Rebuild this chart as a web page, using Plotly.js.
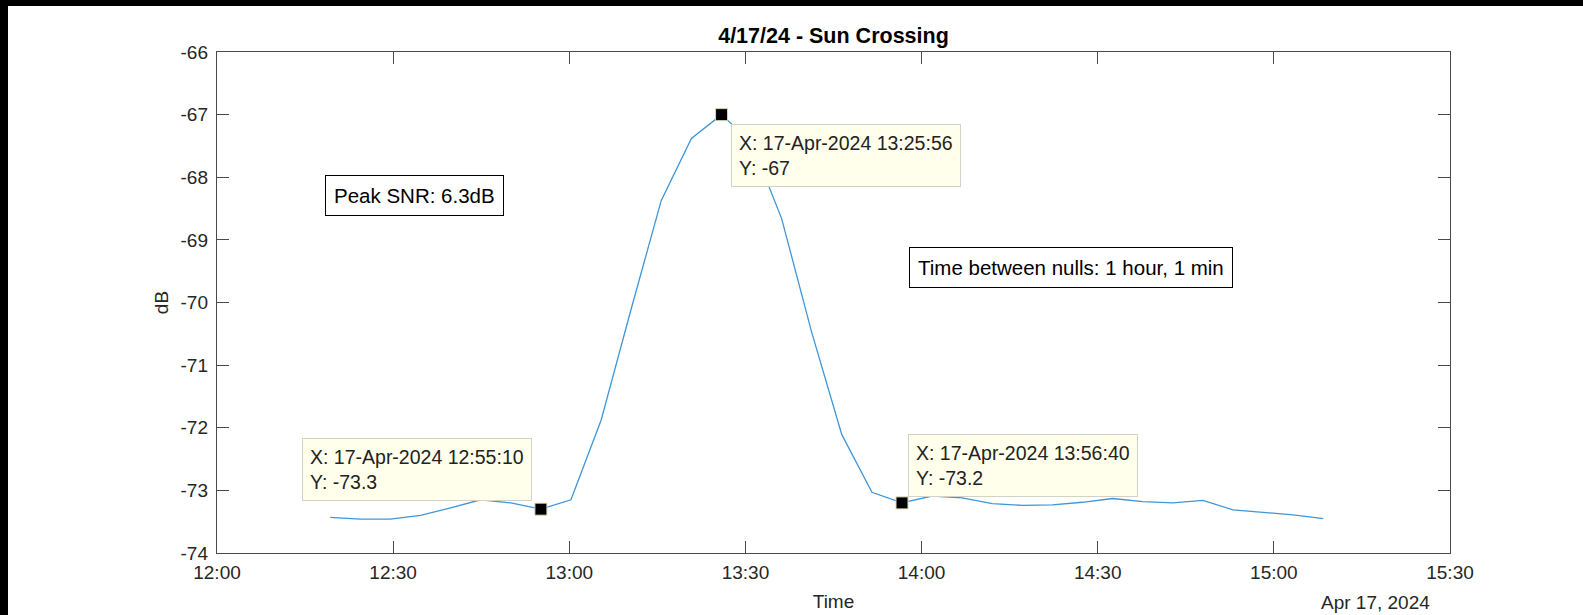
<!DOCTYPE html>
<html>
<head>
<meta charset="utf-8">
<script src="https://cdn.plot.ly/plotly-3.0.1.min.js"></script>
<style>
  html, body { margin: 0; padding: 0; background: #000; overflow: hidden; }
  #chart { position: absolute; left: 8px; top: 6px; width: 1575px; height: 609px; background: #fff; }
</style>
</head>
<body>
<div id="chart"></div>
<script>
// ---- data ----
const times = [
  "2024-04-17 12:19:17", "2024-04-17 12:24:25", "2024-04-17 12:29:32", "2024-04-17 12:34:40",
  "2024-04-17 12:39:47", "2024-04-17 12:44:55", "2024-04-17 12:50:02", "2024-04-17 12:55:10",
  "2024-04-17 13:00:17", "2024-04-17 13:05:25", "2024-04-17 13:10:33", "2024-04-17 13:15:40",
  "2024-04-17 13:20:48", "2024-04-17 13:25:56", "2024-04-17 13:31:03", "2024-04-17 13:36:10",
  "2024-04-17 13:41:18", "2024-04-17 13:46:25", "2024-04-17 13:51:33", "2024-04-17 13:56:40",
  "2024-04-17 14:01:47", "2024-04-17 14:06:55", "2024-04-17 14:12:02", "2024-04-17 14:17:10",
  "2024-04-17 14:22:17", "2024-04-17 14:27:25", "2024-04-17 14:32:32", "2024-04-17 14:37:40",
  "2024-04-17 14:42:47", "2024-04-17 14:47:55", "2024-04-17 14:53:02", "2024-04-17 14:58:10",
  "2024-04-17 15:03:17", "2024-04-17 15:08:25"
];
const dBvals = [
  -73.43, -73.46, -73.46, -73.40,
  -73.28, -73.15, -73.20, -73.30,
  -73.15, -71.88, -70.10, -68.37,
  -67.38, -67.00, -67.45, -68.66,
  -70.48, -72.11, -73.03, -73.20,
  -73.09, -73.12, -73.21, -73.24,
  -73.23, -73.19, -73.13, -73.18,
  -73.20, -73.16, -73.31, -73.35,
  -73.39, -73.45
];
const tipIndex = [7, 13, 19];

const xTickVals = ["2024-04-17 12:00", "2024-04-17 12:30", "2024-04-17 13:00", "2024-04-17 13:30",
                   "2024-04-17 14:00", "2024-04-17 14:30", "2024-04-17 15:00", "2024-04-17 15:30"];
const xTickText = ["12:00", "12:30", "13:00", "13:30", "14:00", "14:30", "15:00", "15:30"];
const yTickVals = [-74, -73, -72, -71, -70, -69, -68, -67, -66];
const yTickText = ["-74", "-73", "-72", "-71", "-70", "-69", "-68", "-67", "-66"];

const titleText = "4/17/24 - Sun Crossing";
const peakText = "Peak SNR: 6.3dB";
const nullText = "Time between nulls: 1 hour, 1 min";
const dateLabel = "Apr 17, 2024";

// ---- helpers ----
const MONTHS = ["Jan","Feb","Mar","Apr","May","Jun","Jul","Aug","Sep","Oct","Nov","Dec"];
function fmtTime(s) {
  const [d, t] = s.split(" ");
  const [y, m, day] = d.split("-");
  return day + "-" + MONTHS[parseInt(m, 10) - 1] + "-" + y + " " + t;
}
function fmtVal(v) { return String(Number(v.toPrecision(4))); }

const FONT = "Liberation Sans, Arial, Helvetica, sans-serif";
const TXT = "#262626";

const tipX = tipIndex.map(i => times[i]);
const tipY = tipIndex.map(i => dBvals[i]);

const traces = [
  {
    x: times, y: dBvals, type: "scatter", mode: "lines",
    line: { color: "rgb(62,150,216)", width: 1.3 },
    hoverinfo: "skip", showlegend: false
  },
  {
    x: tipX, y: tipY, type: "scatter", mode: "markers",
    marker: { symbol: "square", size: 12, color: "#000", line: { color: "#d8d8b4", width: 1 } },
    hoverinfo: "skip", showlegend: false
  }
];

const tipPlacement = [
  { xanchor: "right", yanchor: "bottom", xshift: -9, yshift: 8 },
  { xanchor: "left",  yanchor: "top",    xshift: 9,  yshift: -9 },
  { xanchor: "left",  yanchor: "bottom", xshift: 6,  yshift: 6 }
];

const annotations = tipIndex.map((idx, k) => Object.assign({
  x: times[idx], y: dBvals[idx], xref: "x", yref: "y",
  text: "X: " + fmtTime(times[idx]) + "<br>Y: " + fmtVal(dBvals[idx]),
  showarrow: false, align: "left",
  font: { family: FONT, size: 19.5, color: "#222" },
  bgcolor: "rgb(255,255,236)", bordercolor: "#d2d2c6", borderwidth: 1, borderpad: 7
}, tipPlacement[k]));

annotations.push({
  xref: "paper", yref: "paper", x: 0.1598, y: 0.7126, xanchor: "center", yanchor: "middle",
  text: peakText, showarrow: false,
  font: { family: FONT, size: 20.5, color: "#000" },
  bgcolor: "#fff", bordercolor: "#000", borderwidth: 1, borderpad: 8
});
annotations.push({
  xref: "paper", yref: "paper", x: 0.6928, y: 0.5697, xanchor: "center", yanchor: "middle",
  text: nullText, showarrow: false,
  font: { family: FONT, size: 20.5, color: "#000" },
  bgcolor: "#fff", bordercolor: "#000", borderwidth: 1, borderpad: 8
});
annotations.push({
  xref: "paper", yref: "paper", x: 0.985, y: -0.098, xanchor: "right", yanchor: "middle",
  text: dateLabel, showarrow: false,
  font: { family: FONT, size: 19, color: TXT }
});

const axisCommon = {
  showgrid: false, zeroline: false, showline: true, linecolor: "#4a4a4a", linewidth: 1.2,
  mirror: "ticks", ticks: "inside", ticklen: 12, tickwidth: 1.2, tickcolor: "#4a4a4a",
  tickfont: { family: FONT, size: 19, color: TXT }, automargin: false, fixedrange: true
};

const layout = {
  width: 1575, height: 609,
  margin: { l: 209, r: 133, t: 46, b: 62 },
  paper_bgcolor: "#fff", plot_bgcolor: "#fff",
  title: {
    text: "<b>" + titleText + "</b>", x: 0.5, xref: "paper", xanchor: "center",
    y: 0.951, yref: "container", yanchor: "middle",
    font: { family: FONT, size: 21.5, color: "#000" }
  },
  xaxis: Object.assign({}, axisCommon, {
    type: "date",
    range: ["2024-04-17 12:00", "2024-04-17 15:30"],
    tickmode: "array", tickvals: xTickVals, ticktext: xTickText,
    ticklabelstandoff: 2,
    title: { text: "Time", standoff: 12, font: { family: FONT, size: 19, color: TXT } }
  }),
  yaxis: Object.assign({}, axisCommon, {
    range: [-74, -66],
    tickmode: "array", tickvals: yTickVals, ticktext: yTickText,
    ticklabelstandoff: 4,
    title: { text: "dB", standoff: 6, font: { family: FONT, size: 19, color: TXT } }
  }),
  annotations: annotations,
  showlegend: false
};

Plotly.newPlot("chart", traces, layout, { displayModeBar: false, staticPlot: true });
</script>
</body>
</html>
